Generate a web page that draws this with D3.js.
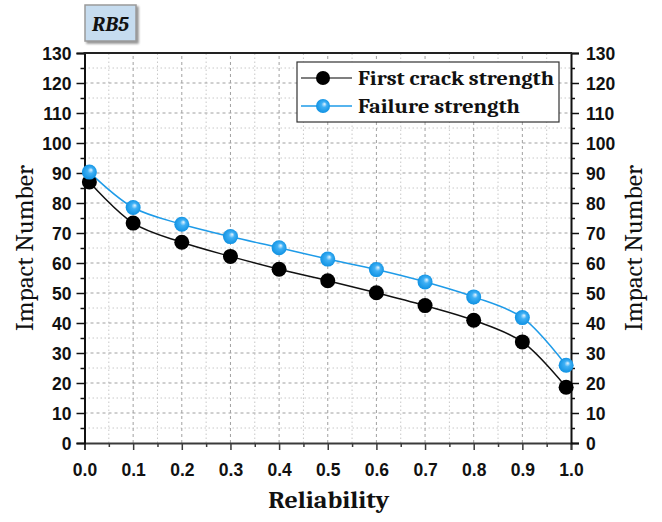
<!DOCTYPE html>
<html>
<head>
<meta charset="utf-8">
<script src="https://cdn.jsdelivr.net/npm/d3@7"></script>
<style>
  body { margin: 0; background: #fff; }
</style>
</head>
<body>
<div id="chart"></div>
<script>
// reliability levels and impact numbers
const reliability = [0.01, 0.1, 0.2, 0.3, 0.4, 0.5, 0.6, 0.7, 0.8, 0.9, 0.99];
const firstCrack = [87.0, 73.3, 66.9, 62.2, 57.9, 54.1, 50.1, 45.8, 40.9, 33.7, 18.6];
const failure = [90.3, 78.5, 72.9, 68.8, 65.1, 61.3, 57.8, 53.7, 48.7, 41.8, 25.9];
const seriesNames = ["First crack strength", "Failure strength"];
const yTicks = d3.range(0, 131, 10);
const xTicks = d3.range(0, 1.01, 0.1);
const panelLabel = "RB5";

const width = 662, height = 522;
const margin = {top: 53, right: 91, bottom: 79, left: 84.5};

const svg = d3.select("#chart").append("svg")
    .attr("width", width)
    .attr("height", height);

const defs = svg.append("defs");
const grad = defs.append("radialGradient")
    .attr("id", "ball")
    .attr("cx", "50%").attr("cy", "50%").attr("r", "55%")
    .attr("fx", "62%").attr("fy", "35%");
grad.append("stop").attr("offset", "0%").attr("stop-color", "#e8f6ff");
grad.append("stop").attr("offset", "35%").attr("stop-color", "#3fb0f5");
grad.append("stop").attr("offset", "100%").attr("stop-color", "#0a8ee0");

const shadow = defs.append("filter").attr("id", "shadow")
    .attr("x", "-20%").attr("y", "-20%").attr("width", "150%").attr("height", "150%");
shadow.append("feDropShadow")
    .attr("dx", 2).attr("dy", 2).attr("stdDeviation", 1)
    .attr("flood-color", "#777").attr("flood-opacity", 0.8);

const x = d3.scaleLinear().domain([0, 1]).range([margin.left, width - margin.right]);
const y = d3.scaleLinear().domain([0, 130]).range([height - margin.bottom, margin.top]);

// grid: minor dotted, major dashed
const grid = svg.append("g");
const minorX = d3.range(0.05, 1, 0.1);
const minorY = d3.range(5, 130, 10);
grid.selectAll(".mx").data(minorX).join("line")
    .attr("x1", d => x(d)).attr("x2", d => x(d))
    .attr("y1", y(0)).attr("y2", y(130))
    .attr("stroke", "#c8c8c8").attr("stroke-dasharray", "1.5,2.5");
grid.selectAll(".my").data(minorY).join("line")
    .attr("x1", x(0)).attr("x2", x(1))
    .attr("y1", d => y(d)).attr("y2", d => y(d))
    .attr("stroke", "#c8c8c8").attr("stroke-dasharray", "1.5,2.5");
grid.selectAll(".gx").data(xTicks.slice(1, -1)).join("line")
    .attr("x1", d => x(d)).attr("x2", d => x(d))
    .attr("y1", y(0)).attr("y2", y(130))
    .attr("stroke", "#a0a0a0").attr("stroke-dasharray", "3,3");
grid.selectAll(".gy").data(yTicks.slice(1, -1)).join("line")
    .attr("x1", x(0)).attr("x2", x(1))
    .attr("y1", d => y(d)).attr("y2", d => y(d))
    .attr("stroke", "#a0a0a0").attr("stroke-dasharray", "3,3");

// axes
const tickFont = "'Liberation Sans', Arial, sans-serif";
function styleAxis(g, color) {
  g.select(".domain").attr("stroke", color).attr("stroke-width", 2);
  g.selectAll(".tick line").attr("stroke", color).attr("stroke-width", 1.5);
  g.selectAll(".tick text")
      .attr("font-family", tickFont)
      .attr("font-weight", "bold")
      .attr("font-size", 17.5)
      .attr("fill", "#111");
}

const minorTickSize = 4;
svg.append("g")
    .attr("transform", `translate(0,${y(0)})`)
    .call(d3.axisBottom(x).tickValues(d3.range(0, 1.01, 0.05)).tickSizeOuter(0)
      .tickSize(7).tickPadding(14)
      .tickFormat((d, i) => i % 2 === 0 ? d3.format(".1f")(d) : ""))
    .call(g => {
      styleAxis(g, "#3a3a3a");
      g.selectAll(".tick line").filter((d, i) => i % 2 === 1).attr("y2", minorTickSize);
    });

svg.append("g")
    .attr("transform", `translate(${x(0)},0)`)
    .call(d3.axisLeft(y).tickValues(d3.range(0, 131, 5)).tickSizeOuter(0)
      .tickSize(8).tickPadding(5)
      .tickFormat((d, i) => i % 2 === 0 ? d : ""))
    .call(g => {
      styleAxis(g, "#111");
      g.selectAll(".tick line").filter((d, i) => i % 2 === 1).attr("x2", -minorTickSize);
      g.selectAll(".tick text").attr("dy", "0.36em");
    });

svg.append("g")
    .attr("transform", `translate(${x(1)},0)`)
    .call(d3.axisRight(y).tickValues(d3.range(0, 131, 5)).tickSizeOuter(0)
      .tickSize(8).tickPadding(7)
      .tickFormat((d, i) => i % 2 === 0 ? d : ""))
    .call(g => {
      styleAxis(g, "#111");
      g.selectAll(".tick line").filter((d, i) => i % 2 === 1).attr("x2", minorTickSize);
      g.selectAll(".tick text").attr("dy", "0.36em");
    });

// top frame line
svg.append("line")
    .attr("x1", x(0) - 1).attr("x2", x(1) + 1)
    .attr("y1", y(130)).attr("y2", y(130))
    .attr("stroke", "#222").attr("stroke-width", 2);

// series
const line = d3.line()
    .x((d, i) => x(reliability[i]))
    .y(d => y(d))
    .curve(d3.curveCatmullRom.alpha(0.5));

svg.append("path").datum(firstCrack)
    .attr("d", line).attr("fill", "none")
    .attr("stroke", "#111").attr("stroke-width", 1.5);
svg.append("path").datum(failure)
    .attr("d", line).attr("fill", "none")
    .attr("stroke", "#1e9be8").attr("stroke-width", 1.5);

svg.append("g").selectAll("circle").data(firstCrack).join("circle")
    .attr("cx", (d, i) => x(reliability[i]))
    .attr("cy", d => y(d))
    .attr("r", 7.5)
    .attr("fill", "#000");

svg.append("g").selectAll("circle").data(failure).join("circle")
    .attr("cx", (d, i) => x(reliability[i]))
    .attr("cy", d => y(d))
    .attr("r", 7.5)
    .attr("fill", "url(#ball)");

// axis titles
const serif = "Cambria, 'Liberation Serif', 'DejaVu Serif', serif";
svg.append("text")
    .attr("transform", `translate(33,${(y(0) + y(130)) / 2}) rotate(-90)`)
    .attr("text-anchor", "middle")
    .attr("font-family", serif)
    .attr("font-size", 24)
    .attr("textLength", 166)
    .attr("lengthAdjust", "spacingAndGlyphs")
    .attr("fill", "#111")
    .text("Impact Number");
svg.append("text")
    .attr("transform", `translate(642,${(y(0) + y(130)) / 2}) rotate(-90)`)
    .attr("text-anchor", "middle")
    .attr("font-family", serif)
    .attr("font-size", 24)
    .attr("textLength", 166)
    .attr("lengthAdjust", "spacingAndGlyphs")
    .attr("fill", "#111")
    .text("Impact Number");
svg.append("text")
    .attr("x", (x(0) + x(1)) / 2 + 1)
    .attr("y", 508)
    .attr("text-anchor", "middle")
    .attr("font-family", serif)
    .attr("font-weight", "bold")
    .attr("font-size", 25)
    .attr("textLength", 121)
    .attr("lengthAdjust", "spacingAndGlyphs")
    .attr("fill", "#111")
    .text("Reliability");

// legend
const legend = svg.append("g").attr("transform", "translate(297,62)");
legend.append("rect")
    .attr("width", 262).attr("height", 60)
    .attr("fill", "#fff").attr("stroke", "#333").attr("stroke-width", 1.2);
const items = [
  {name: seriesNames[0], stroke: "#555", fill: "#000", y: 16},
  {name: seriesNames[1], stroke: "#1e9be8", fill: "url(#ball)", y: 44}
];
const li = legend.selectAll(".item").data(items).join("g")
    .attr("transform", d => `translate(0,${d.y})`);
li.append("line").attr("x1", 4).attr("x2", 55)
    .attr("stroke", d => d.stroke).attr("stroke-width", 1.5);
li.append("circle").attr("cx", 26).attr("r", 7).attr("fill", d => d.fill);
li.append("text")
    .attr("x", 61).attr("dy", "0.35em")
    .attr("font-family", serif)
    .attr("font-weight", "bold")
    .attr("font-size", 20)
    .attr("textLength", d => d.name === seriesNames[0] ? 196 : 162)
    .attr("lengthAdjust", "spacingAndGlyphs")
    .attr("fill", "#111")
    .text(d => d.name);

// panel label box
const tag = svg.append("g").attr("transform", "translate(85,5)");
tag.append("rect")
    .attr("width", 51).attr("height", 36)
    .attr("fill", "#c6dcef").attr("stroke", "#9a9a9a").attr("stroke-width", 1.5)
    .attr("filter", "url(#shadow)");
tag.append("text")
    .attr("x", 25.5).attr("y", 26)
    .attr("text-anchor", "middle")
    .attr("font-family", serif)
    .attr("font-weight", "bold")
    .attr("font-style", "italic")
    .attr("font-size", 21)
    .attr("fill", "#111")
    .text(panelLabel);
</script>
</body>
</html>
